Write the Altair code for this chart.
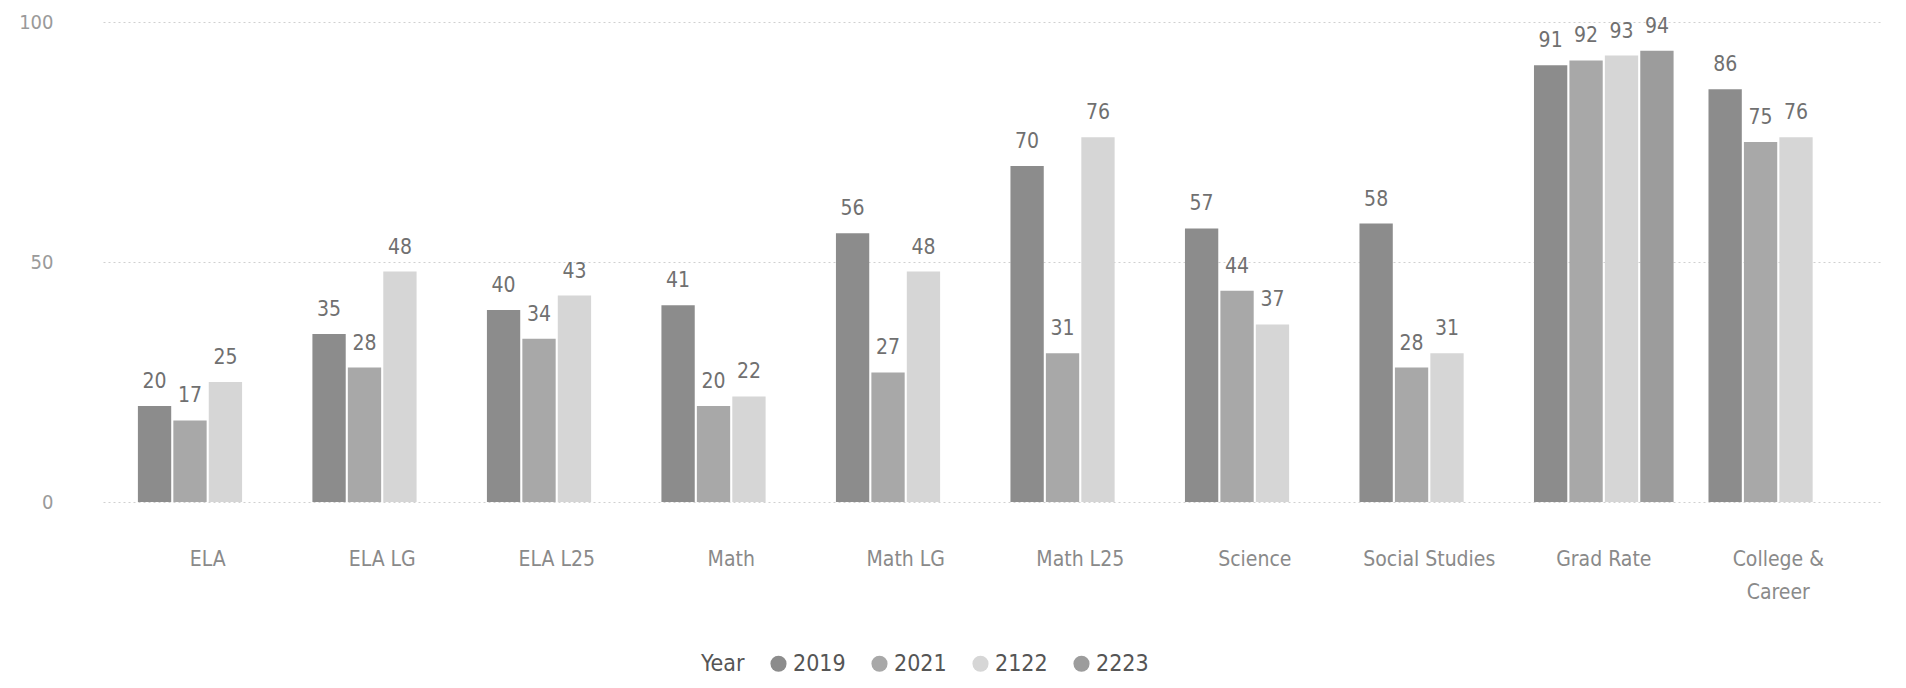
import altair as alt
import pandas as pd

categories = ["ELA", "ELA LG", "ELA L25", "Math", "Math LG", "Math L25",
              "Science", "Social Studies", "Grad Rate", "College & Career"]
years = ["2019", "2021", "2122", "2223"]
values_2019 = [20, 35, 40, 41, 56, 70, 57, 58, 91, 86]
values_2021 = [17, 28, 34, 20, 27, 31, 44, 28, 92, 75]
values_2122 = [25, 48, 43, 22, 48, 76, 37, 31, 93, 76]
values_2223 = [None, None, None, None, None, None, None, None, 94, None]
colors = ["#8c8c8c", "#a8a8a8", "#d6d6d6", "#9c9c9c"]

rows = []
for yr, vals in zip(years, [values_2019, values_2021, values_2122, values_2223]):
    for c, v in zip(categories, vals):
        if v is not None:
            rows.append({"Category": c, "Year": yr, "Value": v})
df = pd.DataFrame(rows)

FONT = "Liberation Sans Narrow, DejaVu Sans Condensed, Open Sans, sans-serif"

x = alt.X("Category:N", sort=categories, title=None,
          scale=alt.Scale(paddingInner=0.2, paddingOuter=0.2),
          axis=alt.Axis(labelAngle=0, labelPadding=46, ticks=False, domain=False,
                        labelFont=FONT, labelFontSize=21, labelColor="#8a8a8a",
                        labelLineHeight=33,
                        labelExpr="datum.label == 'College & Career' ? ['College &', 'Career'] : datum.label"))
xo = alt.XOffset("Year:N", sort=years, scale=alt.Scale(paddingInner=0.06, paddingOuter=0))
y = alt.Y("Value:Q", title=None,
          scale=alt.Scale(domain=[0, 100]),
          axis=alt.Axis(values=[0, 50, 100], ticks=False, domain=False, labelPadding=50,
                        labelFont=FONT, labelFontSize=20, labelColor="#9a9a9a",
                        grid=True, gridColor="#d0d0d0", gridDash=[2, 3], gridWidth=1))

bars = alt.Chart(df).mark_bar().encode(
    x=x, xOffset=xo, y=y,
    color=alt.Color("Year:N", sort=years,
                    scale=alt.Scale(domain=years, range=colors),
                    legend=alt.Legend(orient="none", legendX=598, legendY=630,
                                      direction="horizontal", titleOrient="left",
                                      title="Year", titleFont=FONT, titleFontSize=23,
                                      titleFontWeight="normal", titleColor="#555",
                                      labelFont=FONT, labelFontSize=23, labelColor="#555",
                                      symbolType="circle", symbolSize=260,
                                      symbolStrokeWidth=0, columnPadding=22,
                                      labelOffset=3, titlePadding=22)),
)

labels = alt.Chart(df).mark_text(baseline="bottom", dy=-14, font=FONT,
                                 fontSize=21, color="#707070").encode(
    x=alt.X("Category:N", sort=categories), xOffset=alt.XOffset("Year:N", sort=years),
    y="Value:Q", text="Value:Q")

chart = (bars + labels).properties(
    width=1780, height=480,
    padding={"left": 95, "top": 14, "right": 15, "bottom": 176},
    autosize=alt.AutoSizeParams(type="none"),
    background="white",
).configure_view(stroke=None)

chart.save("out.html", embed_options={"renderer": "svg", "actions": False})
